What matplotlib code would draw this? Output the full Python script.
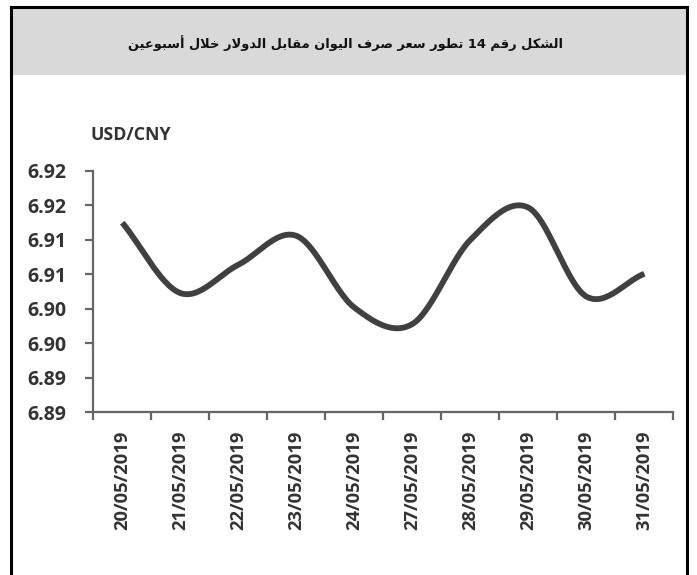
import re
import numpy as np
import matplotlib
matplotlib.use("Agg")
import matplotlib.pyplot as plt
from matplotlib.lines import Line2D
from matplotlib.patches import Rectangle

# ---------------- data ----------------
dates = ["20/05/2019", "21/05/2019", "22/05/2019", "23/05/2019", "24/05/2019",
         "27/05/2019", "28/05/2019", "29/05/2019", "30/05/2019", "31/05/2019"]
rates = [6.9125, 6.9023, 6.9064, 6.9106, 6.9002, 6.8978, 6.9100, 6.9147, 6.9018, 6.9051]
y_ticks = [6.885, 6.890, 6.895, 6.900, 6.905, 6.910, 6.915, 6.920]
y_tick_labels = ["6.89", "6.89", "6.90", "6.90", "6.91", "6.91", "6.92", "6.92"]
title_text = "الشكل رقم 14 تطور سعر صرف اليوان مقابل الدولار خلال أسبوعين"
unit_text = "USD/CNY"

# ---------------- minimal Arabic shaping ----------------
DUAL = {'ب': 0xFE8F, 'ت': 0xFE95, 'خ': 0xFEA5, 'س': 0xFEB1, 'ش': 0xFEB5, 'ص': 0xFEB9,
        'ط': 0xFEC1, 'ع': 0xFEC9, 'ف': 0xFED1, 'ق': 0xFED5, 'ك': 0xFED9, 'ل': 0xFEDD,
        'م': 0xFEE1, 'ن': 0xFEE5, 'ي': 0xFEF1}
RIGHT = {'ا': 0xFE8D, 'أ': 0xFE83, 'د': 0xFEA9, 'ر': 0xFEAD, 'و': 0xFEED}
LAMALEF = {'ا': 0xFEFB, 'أ': 0xFEF7}


def shape(s):
    out = []
    i, n = 0, len(s)
    is_ar = lambda ch: ch in DUAL or ch in RIGHT
    while i < n:
        c = s[i]
        if not is_ar(c):
            out.append(c); i += 1; continue
        prev = s[i - 1] if i > 0 else ''
        pj = prev in DUAL
        if c == 'ل' and i + 1 < n and s[i + 1] in LAMALEF:
            b = LAMALEF[s[i + 1]]
            out.append(chr(b + 1 if pj else b)); i += 2; continue
        nxt = s[i + 1] if i + 1 < n else ''
        nj = c in DUAL and is_ar(nxt)
        if c in DUAL:
            b = DUAL[c]
            code = b + 3 if (pj and nj) else b + 1 if pj else b + 2 if nj else b
        else:
            b = RIGHT[c]
            code = b + 1 if pj else b
        out.append(chr(code)); i += 1
    return ''.join(out)


def visual(s):
    r = shape(s)[::-1]
    return re.sub(r'[0-9]+', lambda m: m.group(0)[::-1], r)


# ---------------- smooth curve (Catmull-Rom through the data points) ----------------
def smooth(xs, ys, n=30):
    xs = np.asarray(xs, float); ys = np.asarray(ys, float)
    px = np.concatenate([[2 * xs[0] - xs[1]], xs, [2 * xs[-1] - xs[-2]]])
    py = np.concatenate([[2 * ys[0] - ys[1]], ys, [2 * ys[-1] - ys[-2]]])
    ox, oy = [], []
    t = np.linspace(0, 1, n, endpoint=False)
    for k in range(1, len(px) - 2):
        for arr, o in ((px, ox), (py, oy)):
            p0, p1, p2, p3 = arr[k - 1], arr[k], arr[k + 1], arr[k + 2]
            o.extend(0.5 * ((2 * p1) + (-p0 + p2) * t + (2 * p0 - 5 * p1 + 4 * p2 - p3) * t ** 2
                            + (-p0 + 3 * p1 - 3 * p2 + p3) * t ** 3))
    ox.append(xs[-1]); oy.append(ys[-1])
    return np.array(ox), np.array(oy)


# ---------------- figure ----------------
W, H = 697, 575
fig = plt.figure(figsize=(W / 100, H / 100), dpi=100)
fig.patch.set_facecolor("white")

# header band and frame
fig.patches.append(Rectangle((12 / W, 1 - 75 / H), (686 - 12) / W, (75 - 8) / H,
                             transform=fig.transFigure, facecolor="#d9d9d9",
                             edgecolor="none", zorder=0))
for xs_, ys_ in (([11, 11], [575, 7]), ([11, 687], [7, 7]), ([687, 687], [7, 575])):
    fig.lines.append(Line2D([x / W for x in xs_], [1 - y / H for y in ys_],
                            transform=fig.transFigure, color="black", lw=2.2,
                            solid_capstyle="projecting"))

fig.text(346 / W, 1 - 43 / H, visual(title_text), ha="center", va="center",
         fontsize=9.4, fontweight="bold", family="DejaVu Sans", color="#111111")

ax = fig.add_axes([93.3 / W, 1 - 412.3 / H, 580 / W, (412.3 - 171) / H])
x = np.arange(len(dates))
sx, sy = smooth(x, rates)
ax.plot(sx, sy, color="#404040", lw=4.2, solid_capstyle="butt", solid_joinstyle="round")

ax.set_xlim(-0.5, len(dates) - 0.5)
ax.set_ylim(y_ticks[0], y_ticks[-1])
ax.set_yticks(y_ticks)
ax.set_yticklabels(y_tick_labels)
ax.set_xticks(x)
ax.set_xticklabels(dates, rotation=90)
ax.set_xticks(np.arange(len(dates) + 1) - 0.5, minor=True)

axis_col = "#666666"
for s in ("top", "right"):
    ax.spines[s].set_visible(False)
for s in ("left", "bottom"):
    ax.spines[s].set_color(axis_col)
    ax.spines[s].set_linewidth(1.6)

ax.tick_params(axis="x", which="major", length=0, pad=13)
ax.tick_params(axis="x", which="minor", length=5.5, width=1.6, color=axis_col, direction="out")
ax.tick_params(axis="y", length=5.5, width=1.6, color=axis_col, pad=14)

for lab in ax.get_yticklabels():
    lab.set_family("Open Sans"); lab.set_fontweight("bold"); lab.set_fontsize(14); lab.set_color("#333333")
for lab in ax.get_xticklabels():
    lab.set_family("Open Sans"); lab.set_fontweight("bold"); lab.set_fontsize(13.2); lab.set_color("#333333")

fig.text(90 / W, 1 - 135 / H, unit_text, ha="left", va="center", family="Open Sans",
         fontweight="bold", fontsize=12.8, color="#333333")

fig.savefig("out.png", dpi=100, facecolor="white")
